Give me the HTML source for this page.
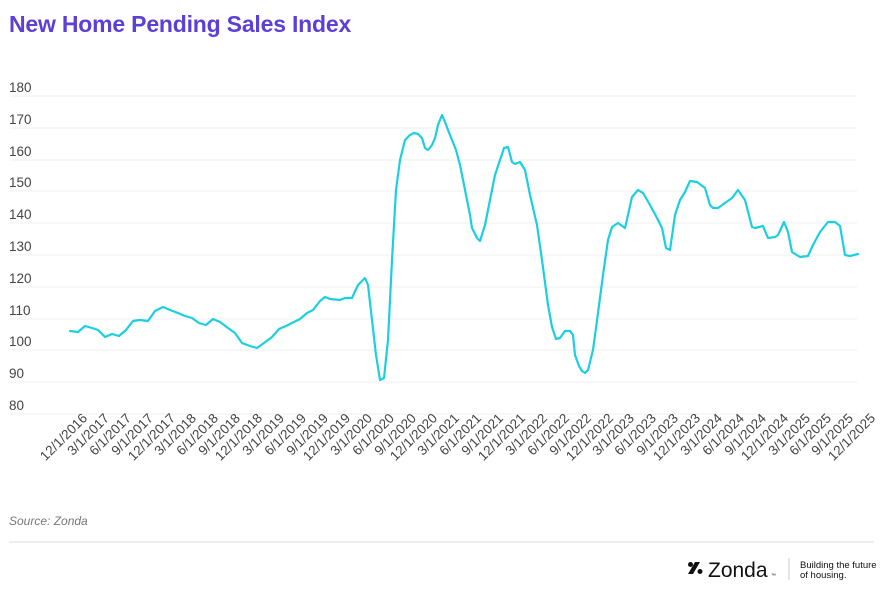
<!DOCTYPE html>
<html><head><style>
body{margin:0;background:#fff;width:891px;height:593px;overflow:hidden;font-family:"Liberation Sans",sans-serif}
</style></head><body>
<svg width="891" height="593" xmlns="http://www.w3.org/2000/svg" font-family="Liberation Sans, sans-serif">
<text x="9" y="32" font-size="23" fill="#5b3fd6" font-weight="bold" letter-spacing="-0.2">New Home Pending Sales Index</text>
<g stroke="#efefef" stroke-width="1">
<line x1="10" x2="857" y1="96" y2="96"/><line x1="10" x2="857" y1="128" y2="128"/><line x1="10" x2="857" y1="160" y2="160"/><line x1="10" x2="857" y1="191" y2="191"/><line x1="10" x2="857" y1="223" y2="223"/><line x1="10" x2="857" y1="255" y2="255"/><line x1="10" x2="857" y1="287" y2="287"/><line x1="10" x2="857" y1="319" y2="319"/><line x1="10" x2="857" y1="350" y2="350"/><line x1="10" x2="857" y1="382" y2="382"/><line x1="10" x2="857" y1="414" y2="414"/>
</g>
<g font-size="13.5" fill="#444">
<text x="9" y="92">180</text><text x="9" y="124">170</text><text x="9" y="156">160</text><text x="9" y="187">150</text><text x="9" y="219">140</text><text x="9" y="251">130</text><text x="9" y="283">120</text><text x="9" y="315">110</text><text x="9" y="346">100</text><text x="9" y="378">90</text><text x="9" y="410">80</text>
</g>
<polyline fill="none" stroke="#1ccfe0" stroke-width="2.2" stroke-linejoin="round" stroke-linecap="round" points="70,331 78,332 85,326 92,328 98,330 105,337 112,334 119,336 126,330 133,321 140,320 148,321 155,311 163,307 170,310 178,313 185,316 192,318 199,323 206,325 213,319 220,322 228,328 235,333 242,343 250,346 257,348 264,343 272,337 279,329 286,326 292,323 300,319 307,313 313,310 320,301 325,297 330,299 340,300 345,298 352,298 358,285 365,278 368,285 372,320 376,355 380,380 384,378 388,340 392,260 396,190 400,160 405,140 410,135 414,133 418,134 422,138 425,148 428,150 432,145 435,138 438,125 442,115 445,122 448,130 452,140 456,150 460,165 465,190 470,215 472,228 477,238 480,241 485,225 490,200 495,175 500,160 504,148 508,147 512,162 515,164 520,162 525,170 530,195 537,225 542,260 548,305 552,327 556,339 560,338 565,331 570,331 573,335 575,355 579,366 582,371 585,373 588,370 593,350 598,313 603,275 608,240 612,227 618,223 625,228 628,215 632,197 638,190 643,193 650,205 657,218 662,228 666,248 670,250 675,215 680,200 685,192 690,181 697,182 705,188 710,205 713,208 718,208 725,203 732,198 738,190 745,200 752,227 755,228 763,226 768,238 775,237 778,235 784,222 788,232 792,252 800,257 808,256 813,245 820,232 828,222 835,222 840,226 845,255 850,256 858,254"/>
<g font-size="13.5" fill="#444" text-anchor="end">
<text transform="translate(88,419) rotate(-45)">12/1/2016</text>
<text transform="translate(110,419) rotate(-45)">3/1/2017</text>
<text transform="translate(132,419) rotate(-45)">6/1/2017</text>
<text transform="translate(154,419) rotate(-45)">9/1/2017</text>
<text transform="translate(176,419) rotate(-45)">12/1/2017</text>
<text transform="translate(197,419) rotate(-45)">3/1/2018</text>
<text transform="translate(219,419) rotate(-45)">6/1/2018</text>
<text transform="translate(241,419) rotate(-45)">9/1/2018</text>
<text transform="translate(263,419) rotate(-45)">12/1/2018</text>
<text transform="translate(285,419) rotate(-45)">3/1/2019</text>
<text transform="translate(307,419) rotate(-45)">6/1/2019</text>
<text transform="translate(329,419) rotate(-45)">9/1/2019</text>
<text transform="translate(351,419) rotate(-45)">12/1/2019</text>
<text transform="translate(373,419) rotate(-45)">3/1/2020</text>
<text transform="translate(395,419) rotate(-45)">6/1/2020</text>
<text transform="translate(417,419) rotate(-45)">9/1/2020</text>
<text transform="translate(438,419) rotate(-45)">12/1/2020</text>
<text transform="translate(460,419) rotate(-45)">3/1/2021</text>
<text transform="translate(482,419) rotate(-45)">6/1/2021</text>
<text transform="translate(504,419) rotate(-45)">9/1/2021</text>
<text transform="translate(526,419) rotate(-45)">12/1/2021</text>
<text transform="translate(548,419) rotate(-45)">3/1/2022</text>
<text transform="translate(570,419) rotate(-45)">6/1/2022</text>
<text transform="translate(592,419) rotate(-45)">9/1/2022</text>
<text transform="translate(614,419) rotate(-45)">12/1/2022</text>
<text transform="translate(635,419) rotate(-45)">3/1/2023</text>
<text transform="translate(657,419) rotate(-45)">6/1/2023</text>
<text transform="translate(679,419) rotate(-45)">9/1/2023</text>
<text transform="translate(701,419) rotate(-45)">12/1/2023</text>
<text transform="translate(723,419) rotate(-45)">3/1/2024</text>
<text transform="translate(745,419) rotate(-45)">6/1/2024</text>
<text transform="translate(767,419) rotate(-45)">9/1/2024</text>
<text transform="translate(789,419) rotate(-45)">12/1/2024</text>
<text transform="translate(811,419) rotate(-45)">3/1/2025</text>
<text transform="translate(832,419) rotate(-45)">6/1/2025</text>
<text transform="translate(854,419) rotate(-45)">9/1/2025</text>
<text transform="translate(876,419) rotate(-45)">12/1/2025</text>
</g>
<text x="9" y="525" font-size="12" font-style="italic" fill="#777">Source: Zonda</text>
<line x1="9" x2="874" y1="542" y2="542" stroke="#ddd"/>
<g transform="translate(688,562)">
<path d="M0,12 L7,0 L12,0 L5,12 Z" fill="#111"/><circle cx="2.5" cy="2.5" r="2.5" fill="#111"/><circle cx="12" cy="9.5" r="2.5" fill="#111"/>
</g>
<text x="708" y="577" font-size="21" fill="#111">Zonda</text>
<text x="771" y="577" font-size="5" fill="#111">™</text>
<line x1="789" x2="789" y1="558" y2="580" stroke="#ccc"/>
<text x="800" y="568" font-size="9.5" fill="#111">Building the future</text>
<text x="800" y="578" font-size="9.5" fill="#111">of housing.</text>
</svg>
</body></html>
